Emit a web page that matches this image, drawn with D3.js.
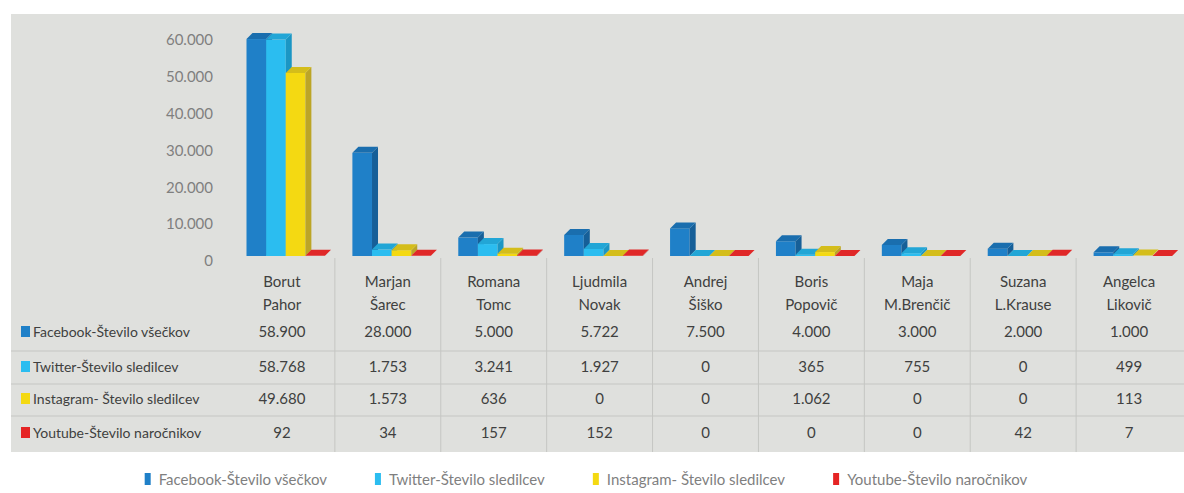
<!DOCTYPE html>
<html lang="sl">
<head>
<meta charset="UTF-8">
<title>Družbena omrežja</title>
<script src="https://d3js.org/d3.v7.min.js"></script>
<style>
    body { margin: 0; background: #fff; }
    svg { display: block; font-family: Lato, "Open Sans", sans-serif; }
    .tick text { fill: #7f7f7f; font-size: 15px; }
    .cell { fill: #404040; font-size: 15px; }
    .rowlabel { fill: #404040; font-size: 14px; }
    .legend text { fill: #7f7f7f; font-size: 15px; }
</style>
</head>
<body>
<div id="chart"></div>
<script>
// data
const categories = ["Borut Pahor", "Marjan Šarec", "Romana Tomc", "Ljudmila Novak", "Andrej Šiško",
    "Boris Popovič", "Maja M.Brenčič", "Suzana L.Krause", "Angelca Likovič"];
const seriesNames = ["Facebook-Število všečkov", "Twitter-Število sledilcev",
    "Instagram- Število sledilcev", "Youtube-Število naročnikov"];
const facebook  = [58900, 28000, 5000, 5722, 7500, 4000, 3000, 2000, 1000];
const twitter   = [58768, 1753, 3241, 1927, 0, 365, 755, 0, 499];
const instagram = [49680, 1573, 636, 0, 0, 1062, 0, 0, 113];
const youtube   = [92, 34, 157, 152, 0, 0, 0, 42, 7];
const yTicks = [0, 10000, 20000, 30000, 40000, 50000, 60000];

const seriesValues = [facebook, twitter, instagram, youtube];
// front / side / top shades per series
const colors = [
    { front: "#1f80c8", side: "#165f98", top: "#1a6eae" },
    { front: "#2bbdf0", side: "#1b96c4", top: "#22a6d6" },
    { front: "#f4d912", side: "#bca526", top: "#d4bd1a" },
    { front: "#e52424", side: "#b51a1a", top: "#e02828" }
];

const W = 1184, H = 493;
const bg = { x: 11, y: 14, w: 1173, h: 438 };
const baseY = 256, dx = 6, dy = 6;

const svg = d3.select("#chart").append("svg")
    .attr("width", W).attr("height", H);

svg.append("rect")
    .attr("x", bg.x).attr("y", bg.y)
    .attr("width", bg.w).attr("height", bg.h)
    .attr("fill", "#dfe0dd");

const x = d3.scaleBand().domain(categories).range([229, 1182]);
const x1 = d3.scaleBand().domain(d3.range(seriesNames.length)).range([17.5, 96]);
const y = d3.scaleLinear().domain([0, 60000]).range([baseY, 35]);

const loc = d3.formatLocale({ decimal: ",", thousands: ".", grouping: [3], currency: ["", " €"] });
const fmt = loc.format(",d");

// y axis
const yAxis = svg.append("g")
    .attr("transform", "translate(213,5)")
    .call(d3.axisLeft(y).tickValues(yTicks).tickFormat(fmt).tickSize(0).tickPadding(0));
yAxis.select(".domain").remove();
yAxis.selectAll("text").style("font-family", "Lato, sans-serif");

// table grid
const grid = svg.append("g").attr("stroke", "#c5c6c3").attr("stroke-width", 1);
grid.selectAll("line.v")
    .data(categories.slice(1))
    .join("line")
    .attr("x1", d => x(d)).attr("x2", d => x(d))
    .attr("y1", 258).attr("y2", bg.y + bg.h);
grid.selectAll("line.h")
    .data([351, 384, 416])
    .join("line")
    .attr("x1", bg.x).attr("x2", bg.x + bg.w)
    .attr("y1", d => d).attr("y2", d => d);

// 3d bars
const bw = x1.bandwidth();
const groups = svg.append("g").selectAll("g")
    .data(categories)
    .join("g")
    .attr("transform", d => `translate(${x(d)},0)`);

groups.each(function (c, ci) {
    const g = d3.select(this);
    seriesValues.forEach((vals, si) => {
        const v = vals[ci];
        const x0 = x1(si), top = y(v), col = colors[si];
        if (baseY - top > 0.5) {
            g.append("rect")
                .attr("x", x0).attr("y", top)
                .attr("width", bw).attr("height", baseY - top)
                .attr("fill", col.front);
            g.append("polygon")
                .attr("points", [[x0 + bw, top], [x0 + bw + dx, top - dy], [x0 + bw + dx, baseY - dy], [x0 + bw, baseY]].join(" "))
                .attr("fill", col.side);
        }
        g.append("polygon")
            .attr("points", [[x0, top], [x0 + dx, top - dy], [x0 + bw + dx, top - dy], [x0 + bw, top]].join(" "))
            .attr("fill", col.top);
    });
});

// category names (two lines)
groups.each(function (c) {
    const parts = c.split(" ");
    const t = d3.select(this).append("text")
        .attr("class", "cell")
        .attr("text-anchor", "middle");
    t.append("tspan").attr("x", x.bandwidth() / 2).attr("y", 287).text(parts[0]);
    t.append("tspan").attr("x", x.bandwidth() / 2).attr("y", 310).text(parts.slice(1).join(" "));
});

// table rows
const rowY = [337, 372, 404, 438];
seriesNames.forEach((name, si) => {
    const row = svg.append("g");
    row.append("rect")
        .attr("x", 21).attr("y", rowY[si] - 11)
        .attr("width", 9).attr("height", 11)
        .attr("fill", colors[si].front);
    row.append("text")
        .attr("class", "rowlabel")
        .attr("x", 33).attr("y", rowY[si])
        .text(name);
    row.selectAll("text.val")
        .data(seriesValues[si])
        .join("text")
        .attr("class", "cell val")
        .attr("text-anchor", "middle")
        .attr("x", (d, i) => x(categories[i]) + x.bandwidth() / 2)
        .attr("y", rowY[si])
        .text(d => fmt(d));
});

// legend, centred under the chart
const legend = svg.append("g").attr("class", "legend");
const items = legend.selectAll("g")
    .data(seriesNames)
    .join("g");
items.append("rect")
    .attr("y", -12).attr("width", 6).attr("height", 12)
    .attr("fill", (d, i) => colors[i].front);
items.append("text")
    .attr("x", 14)
    .text(d => d);
let pos = 0;
const gap = 48;
items.each(function () {
    const w = 14 + d3.select(this).select("text").node().getComputedTextLength();
    d3.select(this).attr("data-x", pos);
    pos += w + gap;
});
const total = pos - gap;
const startX = 586 - total / 2;
items.attr("transform", function () {
    return `translate(${startX + (+this.getAttribute("data-x"))},485)`;
});
</script>
</body>
</html>
